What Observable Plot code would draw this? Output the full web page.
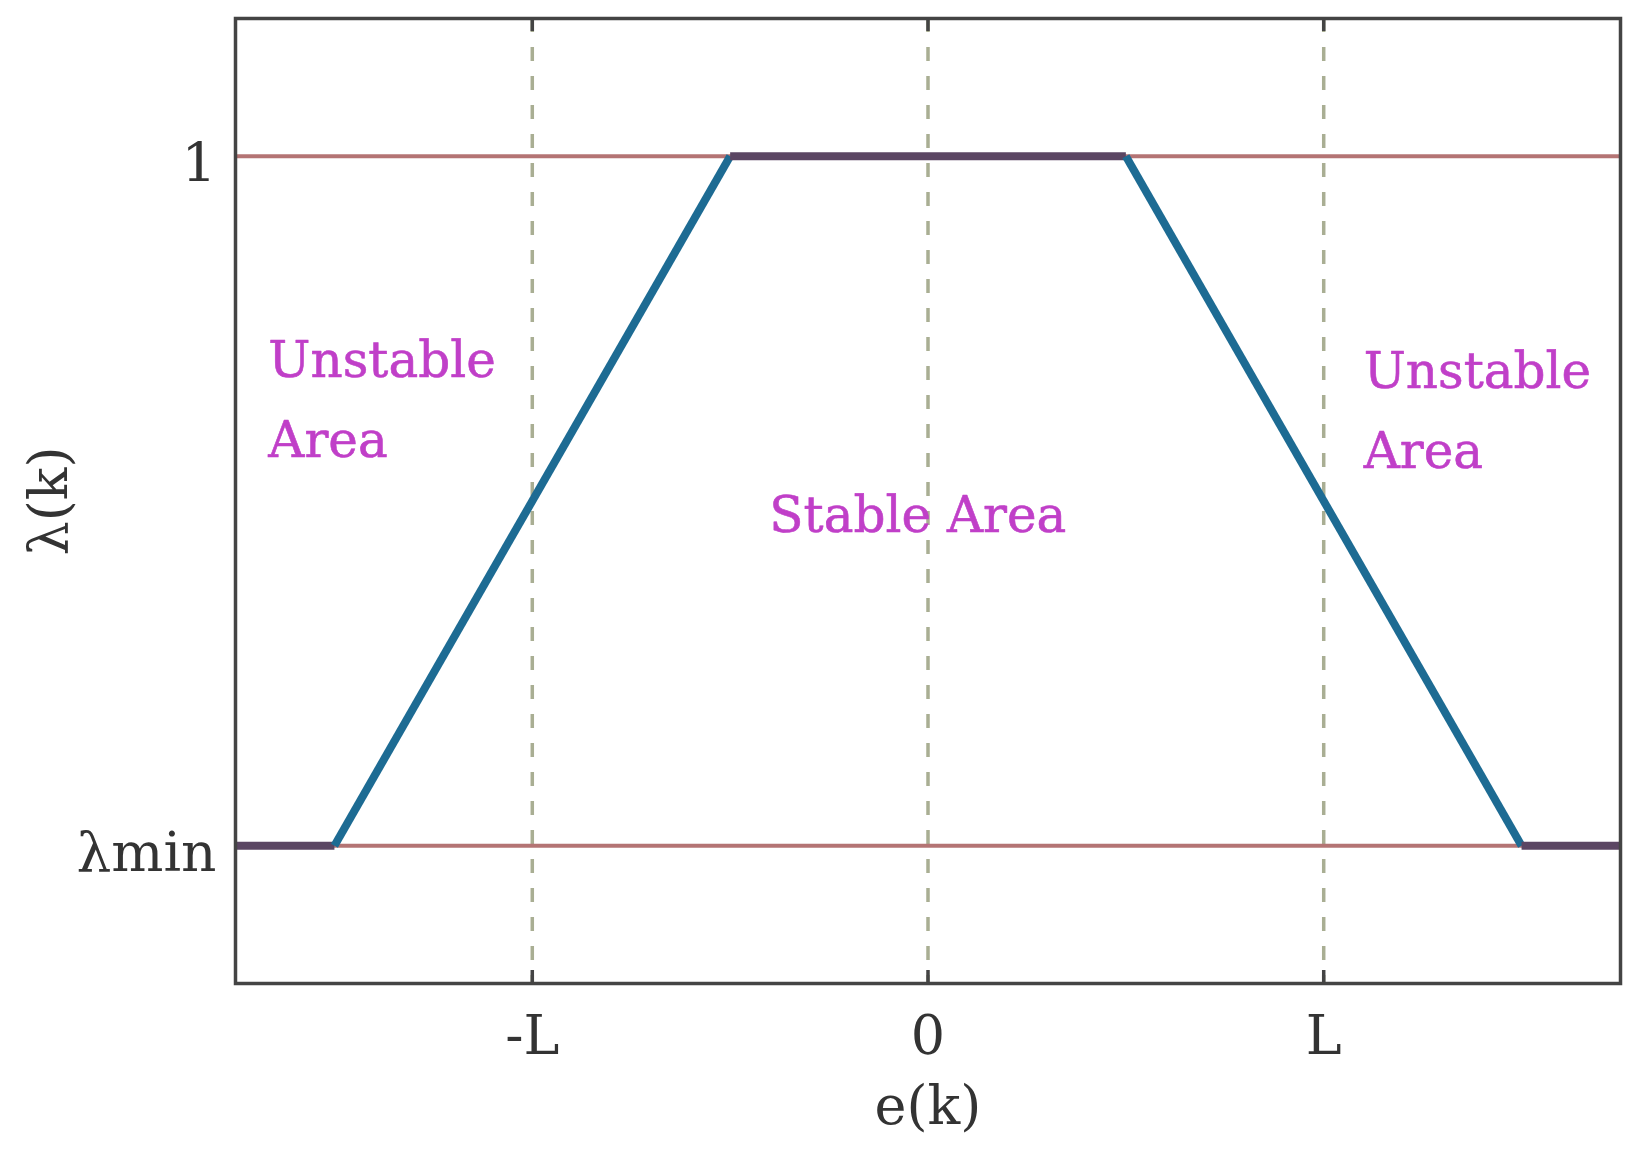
<!DOCTYPE html>
<html>
<head>
<meta charset="utf-8">
<script src="https://cdn.jsdelivr.net/npm/d3@7"></script>
<script src="https://cdn.jsdelivr.net/npm/@observablehq/plot@0.6"></script>
<style>
  html, body { margin: 0; padding: 0; background: #fff; }
  #chart { width: 1636px; height: 1150px; }
</style>
</head>
<body>
<div id="chart"></div>
<script>
// Data
const e = [-1.75, -1.5, -0.5, 0.5, 1.5, 1.75];
const lambda = [0, 0, 1, 1, 0, 0];
const xTicks = [-1, 0, 1];
const xTickLabels = ["-L", "0", "L"];
const yTicks = [0, 1];
const yTickLabels = ["λmin", "1"];
const areaLabels = ["Unstable\nArea", "Stable Area", "Unstable\nArea"];
const areaX = [-1.667, -0.401, 1.101];
const areaY = [0.564, 0.455, 0.548];

// Build segments from the points
const segments = [];
for (let i = 0; i < e.length - 1; i++) {
  const kind = lambda[i] === lambda[i + 1] ? "flat" : "slope";
  segments.push({seg: i, kind, e: e[i], l: lambda[i]});
  segments.push({seg: i, kind, e: e[i + 1], l: lambda[i + 1]});
}
const areas = areaLabels.map((t, i) => ({t, x: areaX[i], y: areaY[i]}));

const innerH = 983 - 18;
const tickLen = 13;

const chart = Plot.plot({
  width: 1636,
  height: 1150,
  marginLeft: 235,
  marginRight: 16,
  marginTop: 18,
  marginBottom: 167,
  style: {fontFamily: "DejaVu Serif", fontSize: "54px", color: "#333", background: "#fff"},
  x: {domain: [-1.75, 1.75]},
  y: {domain: [-0.2, 1.2]},
  color: {domain: ["slope", "flat"], range: ["#1d6b93", "#5b4663"]},
  marks: [
    Plot.ruleX(xTicks, {stroke: "#a9ae93", strokeWidth: 3.5, strokeDasharray: "14,15"}),
    Plot.ruleX(xTicks, {stroke: "#444", strokeWidth: 3.5, insetTop: innerH - tickLen}),
    Plot.ruleX(xTicks, {stroke: "#444", strokeWidth: 3.5, insetBottom: innerH - tickLen}),
    Plot.ruleY(yTicks, {stroke: "#b47474", strokeWidth: 4}),
    Plot.line(segments, {x: "e", y: "l", z: "seg", stroke: "kind", strokeWidth: 8, strokeLinecap: "butt"}),
    Plot.frame({stroke: "#444", strokeWidth: 3.5}),
    Plot.axisX({ticks: xTicks, tickFormat: (d) => xTickLabels[xTicks.indexOf(d)], tickSize: 0, tickPadding: 32, fontSize: 54, label: null}),
    Plot.axisY({ticks: yTicks, tickFormat: (d) => yTickLabels[yTicks.indexOf(d)], tickSize: 0, tickPadding: 19, fontSize: 55, dy: 8, label: null}),
    Plot.text(areas, {x: "x", y: "y", text: "t", textAnchor: "start", lineAnchor: "bottom", lineHeight: 1.6, fill: "#c03fc8", fontSize: 50, fontFamily: "DejaVu Serif", stroke: "#c03fc8", strokeWidth: 0.6}),
    Plot.text(["e(k)"], {frameAnchor: "bottom", dy: 140, lineAnchor: "bottom", fontSize: 54, fill: "#333", fontFamily: "DejaVu Serif"}),
    Plot.text(["λ(k)"], {frameAnchor: "left", dx: -186, rotate: -90, textAnchor: "middle", lineAnchor: "middle", fontSize: 54, fill: "#333", fontFamily: "DejaVu Serif"})
  ]
});
document.getElementById("chart").appendChild(chart);
</script>
</body>
</html>
